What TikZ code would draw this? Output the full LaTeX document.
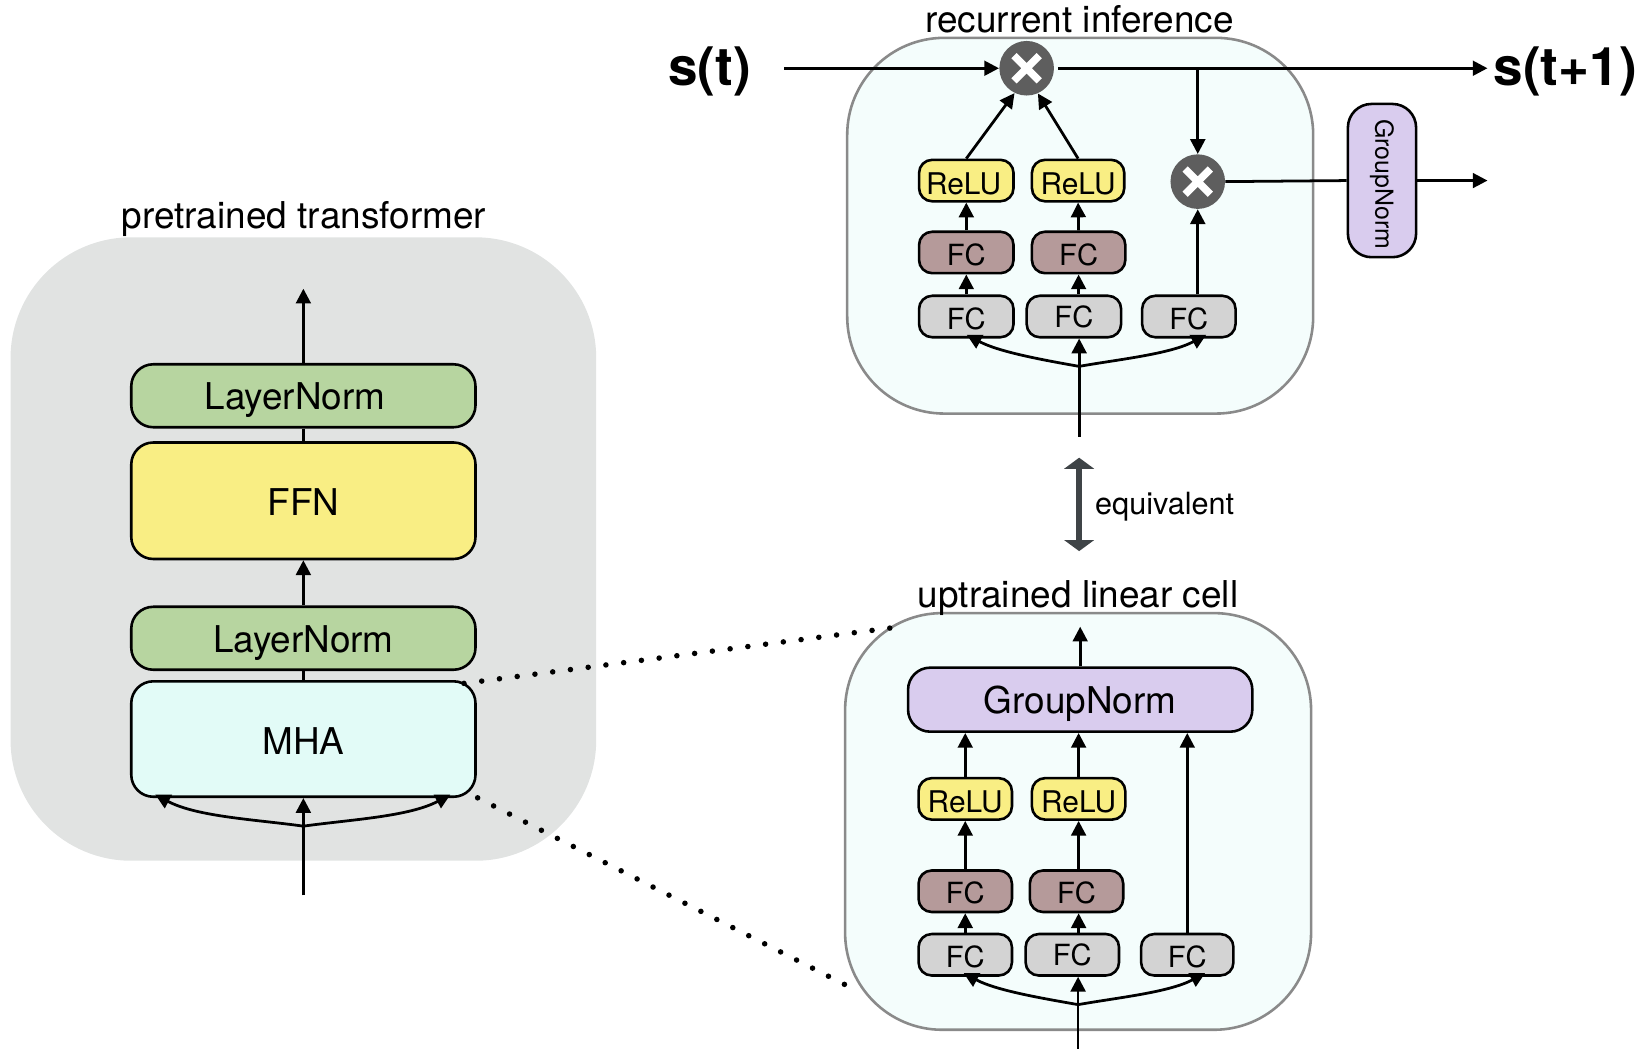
\documentclass[tikz,border=0pt]{standalone}
\usepackage{xcolor}
\usepackage{fontspec}
\setmainfont{TeX Gyre Heros}
\usetikzlibrary{arrows.meta,positioning}

\definecolor{panelgray}{HTML}{E1E3E2}
\definecolor{panelmint}{HTML}{F4FDFC}
\definecolor{panelline}{HTML}{8A8A8A}
\definecolor{normgreen}{HTML}{B7D5A0}
\definecolor{ffnyellow}{HTML}{F9EE84}
\definecolor{mhamint}{HTML}{E2FBF7}
\definecolor{normpurple}{HTML}{D9CCEE}
\definecolor{fcbrown}{HTML}{B59A9A}
\definecolor{fcgray}{HTML}{D3D3D3}
\definecolor{multgray}{HTML}{5E5E5E}
\definecolor{eqdark}{HTML}{3F4447}

\tikzset{
    panelbox/.style={draw=panelline, line width=1.4pt, fill=panelmint, rounded corners=1.85cm,
        inner sep=0pt, minimum width=8.88cm},
    bigblock/.style={draw=black, line width=1.4pt, rounded corners=0.42cm, inner sep=0pt,
        minimum width=6.56cm, font=\fontsize{20pt}{24pt}\selectfont,
        text height=16pt, text depth=1pt},
    capsblock/.style={bigblock, text height=17.5pt},
    smallblock/.style={draw=black, line width=1.4pt, rounded corners=0.25cm, inner sep=0pt,
        minimum height=0.79cm, minimum width=1.8cm, font=\fontsize{15.8pt}{19pt}\selectfont,
        text height=14.5pt, text depth=0.7pt},
    relublock/.style={smallblock, fill=ffnyellow, font=\fontsize{16.2pt}{19pt}\selectfont,
        text height=15.5pt},
    fcbrownblock/.style={smallblock, fill=fcbrown},
    fcgrayblock/.style={smallblock, fill=fcgray},
    raisedfc/.style={text height=12.5pt, text depth=0.5pt},
    titletext/.style={font=\fontsize{20.05pt}{24pt}\selectfont},
    statetext/.style={font=\fontsize{28.8pt}{34pt}\selectfont\bfseries},
    multnode/.style={circle, fill=multgray, minimum size=1.04cm, inner sep=0pt,
        path picture={
            \draw[white, line width=4pt]
                (path picture bounding box.center) +(-0.24cm,-0.24cm) -- +(0.24cm,0.24cm)
                (path picture bounding box.center) +(-0.24cm,0.24cm) -- +(0.24cm,-0.24cm);
        }},
    flow/.style={line width=1.5pt, -{Triangle[length=8pt,width=8pt]}},
    plainflow/.style={line width=1.5pt},
    dotline/.style={line width=3pt, line cap=round, dash pattern=on 0pt off 9.7pt}
}

\begin{document}
\begin{tikzpicture}[x=0.02cm,y=-0.02cm]
    \useasboundingbox (0,0) rectangle (1568,1011.7);

    % pretrained transformer
    \node[
        fill=panelgray,
        rounded corners=2.3cm,
        inner sep=0pt,
        minimum width=11.16cm,
        minimum height=11.88cm
        ] (leftpanel) at (289,523) {};
    \node[titletext] (lefttitle) at (289.5,209) {pretrained transformer};

    \node[bigblock, fill=normgreen, minimum height=1.2cm] (normtop) at (289,377) {LayerNorm\hspace{9pt}\null};
    \node[capsblock, fill=ffnyellow, minimum height=2.22cm] (ffn) at (289,477) {FFN};
    \node[bigblock, fill=normgreen, minimum height=1.2cm] (normlow) at (289,608) {LayerNorm};
    \node[capsblock, fill=mhamint, minimum height=2.2cm] (mha) at (289,704) {MHA};

    \coordinate (leftout) at (289,275);
    \coordinate (leftin) at (289,853);
    \coordinate (leftsplit) at (289,787);
    \coordinate (mhaleft) at (148,757);
    \coordinate (mharight) at (429,757);

    \draw[flow] (normtop.north) -- (leftout);
    \draw[plainflow] (normtop.south) -- (ffn.north);
    \draw[flow] (normlow.north) -- (ffn.south);
    \draw[plainflow] (normlow.south) -- (mha.north);
    \draw[flow] (leftin) -- (mha.south);
    \draw[flow] (leftsplit) to[out=172,in=-28,looseness=0.8] (mhaleft);
    \draw[flow] (leftsplit) to[out=8,in=-152,looseness=0.8] (mharight);

    % recurrent inference
    \node[panelbox, minimum height=7.16cm] (toppanel) at (1029,215) {};
    \node[titletext] (toptitle) at (1028.5,18) {recurrent inference};
    \node[statetext] (stateold) at (676,68) {s(t)};
    \node[statetext] (statenew) at (1491,68) {s(t+1)};

    \node[multnode] (multtop) at (978,65) {};
    \node[multnode] (multside) at (1141,173) {};

    \node[relublock] (topreluA) at (920.5,172) {ReLU\hspace{3pt}\null};
    \node[relublock, minimum width=1.76cm] (topreluB) at (1027,172) {ReLU};
    \node[fcbrownblock] (topbrownA) at (920.5,240.5) {FC};
    \node[fcbrownblock, minimum width=1.78cm] (topbrownB) at (1027.5,240.5) {FC};
    \node[fcgrayblock] (topgrayA) at (920.5,301.5) {FC};
    \node[fcgrayblock, raisedfc] (topgrayB) at (1023,301.5) {FC};
    \node[fcgrayblock, minimum width=1.78cm] (topgrayC) at (1132.5,301.5) {FC};
    \node[
        draw=black,
        line width=1.4pt,
        fill=normpurple,
        rounded corners=0.45cm,
        inner sep=0pt,
        rotate=-90,
        minimum width=2.92cm,
        minimum height=1.3cm,
        font=\fontsize{13.5pt}{16pt}\selectfont
        ] (sidegroup) at (1316.5,172) {\null\hspace{4pt}GroupNorm};

    \coordinate (topstart) at (747,65);
    \coordinate (topend) at (1417,65);
    \coordinate (topbranch) at (1141,65);
    \coordinate (sideend) at (1417,172);
    \coordinate (topin) at (1028,416);
    \coordinate (topsplit) at (1028,349);
    \coordinate (topleft) at (921,319);
    \coordinate (topright) at (1149,319);

    \draw[flow] (topstart) -- (multtop.west);
    \draw[flow, shorten <=2pt] (multtop.east) -- (topend);
    \draw[flow] (topbranch) -- (multside.north);
    \draw[flow] (topreluA.north) -- (multtop.244);
    \draw[flow] (topreluB.north) -- (multtop.294);
    \draw[flow] (topbrownA.north) -- (topreluA.south);
    \draw[flow] (topbrownB.north) -- (topreluB.south);
    \draw[flow] (topgrayA.north) -- (topbrownA.south);
    \draw[flow] (topgrayB.north -| topbrownB.south) -- (topbrownB.south);
    \draw[flow] (topgrayC.north -| multside.south) -- (multside.south);
    \draw[plainflow] (multside.east) -- (sidegroup.south);
    \draw[flow] (sidegroup.north) -- (sideend);
    \draw[flow] (topin) -- (topgrayB.south -| topin);
    \draw[flow] (topsplit) to[out=170,in=-28,looseness=0.8] (topleft);
    \draw[flow] (topsplit) to[out=10,in=-152,looseness=0.8] (topright);

    % equivalent
    \coordinate (eqtop) at (1028,436);
    \coordinate (eqbottom) at (1028,525);
    \draw[
        line width=3pt,
        color=eqdark,
        {Triangle[length=6pt,width=16pt]}-{Triangle[length=6pt,width=16pt]}
        ] (eqtop) -- (eqbottom);
    \node[font=\fontsize{16.6pt}{20pt}\selectfont, anchor=west] (eqlabel) at (1037,483) {equivalent};

    % uptrained linear cell
    \node[panelbox, minimum height=7.94cm] (lowpanel) at (1027,782.5) {};
    \node[titletext] (lowtitle) at (1027,570) {uptrained linear cell};

    \node[bigblock, fill=normpurple, minimum height=1.22cm] (lowgroup) at (1029,666.5) {GroupNorm};
    \node[relublock, minimum width=1.78cm] (lowreluA) at (919.5,761) {ReLU};
    \node[relublock, minimum width=1.78cm] (lowreluB) at (1027.5,761) {ReLU};
    \node[fcbrownblock, minimum width=1.78cm] (lowbrownA) at (919.5,849) {FC};
    \node[fcbrownblock, minimum width=1.78cm] (lowbrownB) at (1025.5,849) {FC};
    \node[fcgrayblock, minimum width=1.78cm] (lowgrayA) at (919.5,909.5) {FC};
    \node[fcgrayblock, raisedfc, minimum width=1.78cm] (lowgrayB) at (1021.5,909.5) {FC};
    \node[fcgrayblock, minimum width=1.76cm] (lowgrayC) at (1131,909.5) {FC};

    \coordinate (lowout) at (1029,597);
    \coordinate (lowin) at (1027,999);
    \coordinate (lowsplit) at (1027,957);
    \coordinate (lowleft) at (918,927);
    \coordinate (lowright) at (1148,927);

    \draw[flow] (lowgroup.north) -- (lowout);
    \draw[flow] (lowreluA.north) -- (lowreluA.north |- lowgroup.south);
    \draw[flow] (lowreluB.north) -- (lowreluB.north |- lowgroup.south);
    \draw[flow] (lowgrayC.north) -- (lowgrayC.north |- lowgroup.south);
    \draw[flow] (lowbrownA.north) -- (lowreluA.south);
    \draw[flow] (lowbrownB.north -| lowreluB.south) -- (lowreluB.south);
    \draw[flow] (lowgrayA.north) -- (lowbrownA.south);
    \draw[flow] (lowgrayB.north -| lowreluB.south) -- (lowbrownB.south -| lowreluB.south);
    \draw[flow] (lowin) -- (lowgrayB.south -| lowin);
    \draw[flow] (lowsplit) to[out=170,in=-28,looseness=0.8] (lowleft);
    \draw[flow] (lowsplit) to[out=10,in=-152,looseness=0.8] (lowright);

    % dotted zoom lines
    \coordinate (zoomAstart) at (442,651);
    \coordinate (zoomAend) at (850,598);
    \coordinate (zoomBstart) at (455,760);
    \coordinate (zoomBend) at (805,938);
    \draw[dotline] (zoomAstart) -- (zoomAend);
    \draw[dotline] (zoomBstart) -- (zoomBend);
\end{tikzpicture}
\end{document}
